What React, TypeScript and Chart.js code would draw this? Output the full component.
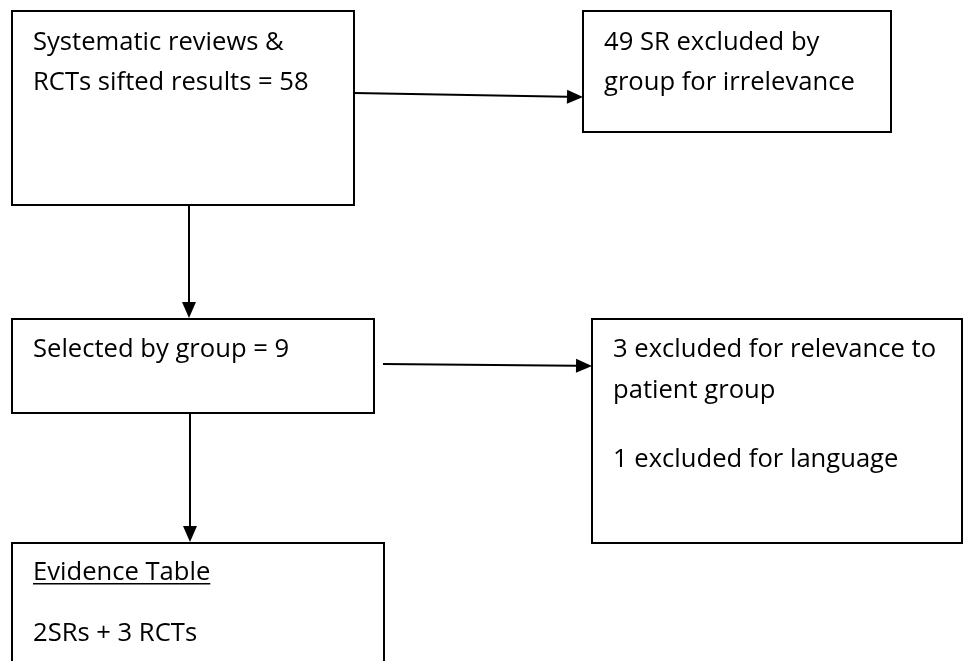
import React, { useEffect, useRef } from "react";
import { Chart, registerables } from "chart.js";

Chart.register(...registerables);

// Flowchart nodes (chart units: x 0..964, y 0..661 top-down)
const NODE_IDS = ["sifted", "excluded1", "selected", "excluded2", "evidence"];
const NODE_X0 = [12, 583, 12, 592, 12];
const NODE_Y0 = [11, 11, 319, 319, 543];
const NODE_X1 = [354, 891, 374, 962, 384];
const NODE_Y1 = [205, 132, 413, 543, 720];

// Text lines: node index, text, baseline (chart units), underline flag
const LINE_NODE = [0, 0, 1, 1, 2, 3, 3, 3, 4, 4];
const LINE_TEXT = [
  "Systematic reviews &",
  "RCTs sifted results = 58",
  "49 SR excluded by",
  "group for irrelevance",
  "Selected by group = 9",
  "3 excluded for relevance to",
  "patient group",
  "1 excluded for language",
  "Evidence Table",
  "2SRs + 3 RCTs",
];
const LINE_Y = [50, 90, 50, 90, 357, 357, 398, 467, 580, 641];
const LINE_UNDERLINE = [false, false, false, false, false, false, false, false, true, false];

// Arrows: start and tip (chart units)
const ARROW_X0 = [354, 189, 383, 190];
const ARROW_Y0 = [93, 205, 364, 413];
const ARROW_X1 = [583, 189, 592, 190];
const ARROW_Y1 = [97, 318, 366, 542];

const FONT = "25.6px 'Open Sans', Lato, sans-serif";
const INK = "#000000";

const flowPlugin = {
  id: "flow",
  afterDraw(chart: any) {
    const ctx = chart.ctx as CanvasRenderingContext2D;
    const xs = chart.scales.x;
    const ys = chart.scales.y;
    const px = (v: number) => xs.getPixelForValue(v);
    const py = (v: number) => ys.getPixelForValue(v);
    ctx.save();
    // boxes
    ctx.strokeStyle = INK;
    ctx.lineWidth = 2;
    for (let i = 0; i < NODE_IDS.length; i++) {
      const x0 = px(NODE_X0[i]);
      const y0 = py(NODE_Y0[i]);
      const x1 = px(NODE_X1[i]);
      const y1 = py(NODE_Y1[i]);
      ctx.fillStyle = "#ffffff";
      ctx.fillRect(x0, y0, x1 - x0, y1 - y0);
      ctx.strokeRect(x0, y0, x1 - x0, y1 - y0);
    }
    // arrows
    for (let i = 0; i < ARROW_X0.length; i++) {
      const x0 = px(ARROW_X0[i]);
      const y0 = py(ARROW_Y0[i]);
      const x1 = px(ARROW_X1[i]);
      const y1 = py(ARROW_Y1[i]);
      const ang = Math.atan2(y1 - y0, x1 - x0);
      const headLen = 16;
      const headHalf = 7;
      const bx = x1 - headLen * Math.cos(ang);
      const by = y1 - headLen * Math.sin(ang);
      ctx.beginPath();
      ctx.moveTo(x0, y0);
      ctx.lineTo(bx, by);
      ctx.lineWidth = 2;
      ctx.stroke();
      ctx.beginPath();
      ctx.moveTo(x1, y1);
      ctx.lineTo(bx - headHalf * Math.sin(ang), by + headHalf * Math.cos(ang));
      ctx.lineTo(bx + headHalf * Math.sin(ang), by - headHalf * Math.cos(ang));
      ctx.closePath();
      ctx.fillStyle = INK;
      ctx.fill();
    }
    // text
    ctx.font = FONT;
    ctx.fillStyle = INK;
    ctx.textBaseline = "alphabetic";
    ctx.textAlign = "left";
    for (let i = 0; i < LINE_TEXT.length; i++) {
      const n = LINE_NODE[i];
      const tx = px(NODE_X0[n]) + 21;
      const ty = py(LINE_Y[i]);
      ctx.fillText(LINE_TEXT[i], tx, ty);
      if (LINE_UNDERLINE[i]) {
        const w = ctx.measureText(LINE_TEXT[i]).width;
        ctx.fillRect(tx, ty + 3, w, 1.5);
      }
    }
    ctx.restore();
  },
};

export default function App() {
  const ref = useRef<HTMLCanvasElement | null>(null);
  useEffect(() => {
    document.body.style.margin = "0";
    document.body.style.background = "#ffffff";
    if (!ref.current) return;
    const chart = new Chart(ref.current, {
      type: "scatter",
      data: { datasets: [{ data: [], pointRadius: 0 }] },
      options: {
        animation: false,
        responsive: false,
        devicePixelRatio: 1,
        layout: { padding: 0 },
        plugins: { legend: { display: false }, tooltip: { enabled: false } },
        scales: {
          x: { type: "linear", min: 0, max: 964, display: false },
          y: { type: "linear", min: 0, max: 661, reverse: true, display: false },
        },
      },
      plugins: [flowPlugin],
    });
    return () => chart.destroy();
  }, []);
  return (
    <div style={{ position: "absolute", left: 0, top: 0, width: 964, height: 661, background: "#fff" }}>
      <canvas ref={ref} width={964} height={661} style={{ display: "block" }} />
    </div>
  );
}
